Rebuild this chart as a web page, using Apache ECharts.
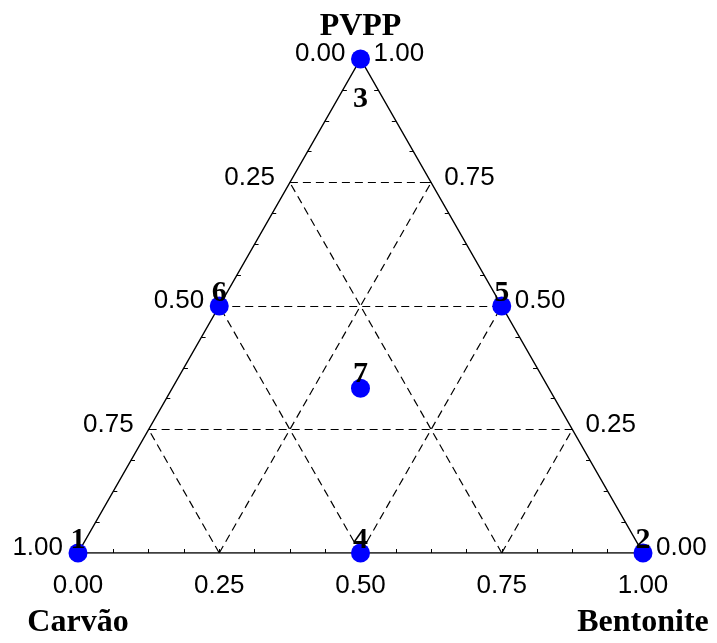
<!DOCTYPE html>
<html>
<head>
<meta charset="utf-8">
<script src="https://cdn.jsdelivr.net/npm/echarts@6/dist/echarts.min.js"></script>
<style>
  html, body { margin: 0; padding: 0; background: #fff; }
  #chart { width: 717px; height: 643px; }
</style>
</head>
<body>
<div id="chart"></div>
<script>
// mixture design points (fractions of each component)
const pointNames = ['1', '2', '3', '4', '5', '6', '7']
const carvao = [1, 0, 0, 0.5, 0, 0.5, 1 / 3]
const bentonite = [0, 1, 0, 0.5, 0.5, 0, 1 / 3]
const pvpp = [0, 0, 1, 0, 0.5, 0.5, 1 / 3]

const tickValues = [0, 0.25, 0.5, 0.75, 1]
const tickLabels = ['0.00', '0.25', '0.50', '0.75', '1.00']
const gridLevels = [0.25, 0.5, 0.75]
const minorStep = 0.0625

const axisNames = { top: 'PVPP', left: 'Carvão', right: 'Bentonite' }

// plot area in pixels
const W = 565, H = 494
const toXY = (b, p) => [b + p / 2, p]

const seg = (a, b) => ({ coords: [a, b] })

// dashed internal grid
const gridLines = []
gridLevels.forEach(k => {
    gridLines.push(seg(toXY(0, k), toXY(1 - k, k)))       // PVPP = k
    gridLines.push(seg(toXY(k, 0), toXY(k, 1 - k)))       // Bentonite = k
    gridLines.push(seg(toXY(1 - k, 0), toXY(0, 1 - k)))   // Carvão = k
})

// small ticks on the edges
const tickLen = 4
const edgeTicks = []
for (let i = 1; i < 1 / minorStep; i++) {
    const t = i * minorStep
    const pb = toXY(t, 0)
    edgeTicks.push(seg(pb, [pb[0], pb[1] + tickLen / H]))
    const pl = toXY(0, t)
    edgeTicks.push(seg(pl, [pl[0] + tickLen / W, pl[1]]))
    const pr = toXY(1 - t, t)
    edgeTicks.push(seg(pr, [pr[0] - tickLen / W, pr[1]]))
}

const outline = [toXY(0, 0), toXY(1, 0), toXY(0, 1), toXY(0, 0)]

const sansLabel = { fontFamily: 'Liberation Sans, Arial, sans-serif', fontSize: 26, color: '#000' }
const serifBold = { fontFamily: 'Liberation Serif, Times New Roman, serif', fontWeight: 'bold', color: '#000' }
const solid = { opacity: 1 }

const bottomTicks = tickValues.map((t, i) => ({ value: toXY(t, 0), name: tickLabels[i] }))
const leftTicks = tickValues.map((t, i) => ({ value: toXY(0, 1 - t), name: tickLabels[i] }))
const rightTicks = tickValues.map((t, i) => ({ value: toXY(1 - t, t), name: tickLabels[i] }))

const points = pointNames.map((n, i) => {
    const isTop = pvpp[i] === 1
    const isCentre = carvao[i] > 0.3 && bentonite[i] > 0.3 && pvpp[i] > 0.3
    return {
        value: toXY(bentonite[i], pvpp[i]),
        name: n,
        label: { offset: [0, isTop ? 40 : (isCentre ? -14 : -13)] }
    }
})

const chart = echarts.init(document.getElementById('chart'))
chart.setOption({
    animation: false,
    grid: { left: 78, top: 59, width: W, height: H },
    xAxis: { type: 'value', min: 0, max: 1, show: false },
    yAxis: { type: 'value', min: 0, max: 1, show: false },
    series: [
        {
            type: 'lines',
            coordinateSystem: 'cartesian2d',
            data: gridLines,
            lineStyle: { color: '#000', width: 1.2, type: [8, 5], opacity: 1 },
            silent: true
        },
        {
            type: 'lines',
            coordinateSystem: 'cartesian2d',
            data: edgeTicks,
            lineStyle: { color: '#000', width: 1, opacity: 1 },
            silent: true
        },
        {
            type: 'line',
            data: outline,
            symbol: 'none',
            lineStyle: { color: '#000', width: 1.5 },
            silent: true
        },
        {
            type: 'scatter',
            data: bottomTicks,
            symbolSize: 0,
            itemStyle: solid,
            label: { show: true, position: 'inside', offset: [0, 33], formatter: '{b}', ...sansLabel }
        },
        {
            type: 'scatter',
            data: leftTicks,
            symbolSize: 0,
            itemStyle: solid,
            label: { show: true, position: 'left', distance: 15, offset: [0, -5], formatter: '{b}', ...sansLabel }
        },
        {
            type: 'scatter',
            data: rightTicks,
            symbolSize: 0,
            itemStyle: solid,
            label: { show: true, position: 'right', distance: 13, offset: [0, -5], formatter: '{b}', ...sansLabel }
        },
        {
            type: 'scatter',
            data: [
                { value: toXY(0, 1), name: axisNames.top, label: { offset: [0, -32] } },
                { value: toXY(0, 0), name: axisNames.left, label: { offset: [0, 70] } },
                { value: toXY(1, 0), name: axisNames.right, label: { offset: [0, 70] } }
            ],
            symbolSize: 0,
            itemStyle: solid,
            label: { show: true, position: 'inside', formatter: '{b}', fontSize: 32, ...serifBold }
        },
        {
            type: 'scatter',
            data: points,
            symbolSize: 19,
            itemStyle: { color: '#0000ff', opacity: 1 },
            label: { show: true, position: 'inside', formatter: '{b}', fontSize: 30, ...serifBold },
            z: 5
        }
    ]
})
</script>
</body>
</html>
